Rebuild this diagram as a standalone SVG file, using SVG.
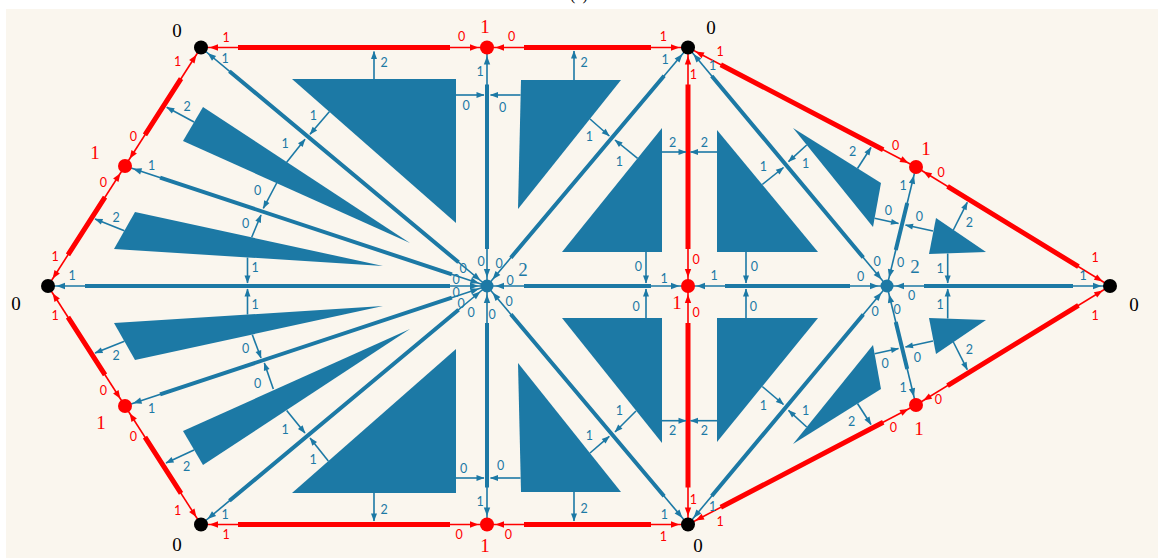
<svg xmlns="http://www.w3.org/2000/svg" width="1158" height="558" viewBox="0 0 1158 558">
<style>
.bg{fill:#FAF6EE}
.tri{fill:#1C79A5}
.rt{stroke:#FF0000;stroke-width:1.6;fill:none;marker-start:url(#ar);marker-end:url(#ar)}
.rT{stroke:#FF0000;stroke-width:5;fill:none}
.bt{stroke:#1C79A5;stroke-width:1.6;fill:none;marker-start:url(#ab);marker-end:url(#ab)}
.bT{stroke:#1C79A5;stroke-width:4;fill:none}
.sa{stroke:#1C79A5;stroke-width:1.6;fill:none;marker-end:url(#sb)}
.s{font-family:Lato,"Liberation Sans",sans-serif;font-size:12.5px;text-anchor:middle}
.sb{fill:#1C79A5}
.sr{fill:#FF0000}
.big{font-family:"Liberation Serif","DejaVu Serif",serif;font-size:19px;text-anchor:middle}
.kb{fill:#000000}
.nr{fill:#FF0000}
.nh{fill:#1C79A5}
</style>
<defs>
<marker id="ar" markerUnits="userSpaceOnUse" markerWidth="20" markerHeight="10" viewBox="-20 -5 20 10" refX="0" refY="0" orient="auto-start-reverse" overflow="visible"><path d="M-17,-3.2 L-8.5,0 L-17,3.2 z" fill="#FF0000"/></marker>
<marker id="ab" markerUnits="userSpaceOnUse" markerWidth="20" markerHeight="10" viewBox="-20 -5 20 10" refX="0" refY="0" orient="auto-start-reverse" overflow="visible"><path d="M-17,-3.2 L-8.5,0 L-17,3.2 z" fill="#1C79A5"/></marker>
<marker id="sb" markerUnits="userSpaceOnUse" markerWidth="12" markerHeight="8" viewBox="-10 -4 12 8" refX="0" refY="0" orient="auto" overflow="visible"><path d="M-7.5,-3 L0.5,0 L-7.5,3 z" fill="#1C79A5"/></marker>
</defs>
<rect class="bg" x="6" y="9" width="1152" height="549"/>
<text x="579" y="-0.5" font-family="Liberation Serif, serif" font-size="16" text-anchor="middle">(c)</text>

<g id="shapes">
<polygon id="t1" class="tri" points="292,79 456,79 456,223"/>
<polygon id="t2" class="tri" points="203,107 183,141 410,243"/>
<polygon id="t3" class="tri" points="135,212 114,249 383,266"/>
<polygon id="t4" class="tri" points="114,323 135,360 383,306"/>
<polygon id="t5" class="tri" points="183,431 203,465 410,329"/>
<polygon id="t6" class="tri" points="292,493 456,493 456,349"/>
<polygon id="t7" class="tri" points="521,80 621,80 518,209"/>
<polygon id="t8" class="tri" points="662,128 562,252 662,252"/>
<polygon id="t9" class="tri" points="717,130 717,252 818,252"/>
<polygon id="t10" class="tri" points="793,128 881,183 873,227"/>
<polygon id="t11" class="tri" points="936,218 929,254 986,252"/>
<polygon id="t12" class="tri" points="936,354 929,318 986,320"/>
<polygon id="t13" class="tri" points="793,444 881,389 873,345"/>
<polygon id="t14" class="tri" points="717,318 818,318 717,442"/>
<polygon id="t15" class="tri" points="562,318 662,318 662,443"/>
<polygon id="t16" class="tri" points="518,363 521,492 621,492"/>
</g>

<g id="connectors">
<!-- blue edges from center hub -->
<line class="bt" x1="487" y1="286" x2="201" y2="47.5"/><line class="bT" x1="487" y1="286" x2="201" y2="47.5" stroke-dasharray="0 37 298.4 999"/>
<line class="bt" x1="487" y1="286" x2="125" y2="166"/><line class="bT" x1="487" y1="286" x2="125" y2="166" stroke-dasharray="0 37 307.4 999"/>
<line class="bt" x1="487" y1="286" x2="48" y2="286"/><line class="bT" x1="487" y1="286" x2="48" y2="286" stroke-dasharray="0 37 365 999"/>
<line class="bt" x1="487" y1="286" x2="125" y2="406"/><line class="bT" x1="487" y1="286" x2="125" y2="406" stroke-dasharray="0 37 307.4 999"/>
<line class="bt" x1="487" y1="286" x2="201" y2="524.5"/><line class="bT" x1="487" y1="286" x2="201" y2="524.5" stroke-dasharray="0 37 298.4 999"/>
<line class="bt" x1="487" y1="286" x2="487" y2="47.5"/><line class="bT" x1="487" y1="286" x2="487" y2="47.5" stroke-dasharray="0 37 164.5 999"/>
<line class="bt" x1="487" y1="286" x2="487" y2="524.5"/><line class="bT" x1="487" y1="286" x2="487" y2="524.5" stroke-dasharray="0 37 164.5 999"/>
<line class="bt" x1="487" y1="286" x2="688" y2="47.5"/><line class="bT" x1="487" y1="286" x2="688" y2="47.5" stroke-dasharray="0 37 237.9 999"/>
<line class="bt" x1="487" y1="286" x2="688" y2="524.5"/><line class="bT" x1="487" y1="286" x2="688" y2="524.5" stroke-dasharray="0 37 237.9 999"/>
<line class="bt" x1="487" y1="286" x2="688" y2="286"/><line class="bT" x1="487" y1="286" x2="688" y2="286" stroke-dasharray="0 37 127 999"/>
<!-- blue edges from right hub -->
<line class="bt" x1="887" y1="286" x2="688" y2="47.5"/><line class="bT" x1="887" y1="286" x2="688" y2="47.5" stroke-dasharray="0 37 236.6 999"/>
<line class="bt" x1="887" y1="286" x2="688" y2="524.5"/><line class="bT" x1="887" y1="286" x2="688" y2="524.5" stroke-dasharray="0 37 236.6 999"/>
<line class="bt" x1="887" y1="286" x2="688" y2="286"/><line class="bT" x1="887" y1="286" x2="688" y2="286" stroke-dasharray="0 37 125 999"/>
<line class="bt" x1="887" y1="286" x2="1110" y2="286"/><line class="bT" x1="887" y1="286" x2="1110" y2="286" stroke-dasharray="0 37 149 999"/>
<line class="bt" x1="887" y1="286" x2="916" y2="167"/><line class="bT" x1="887" y1="286" x2="916" y2="167" stroke-dasharray="0 37 48.5 999"/>
<line class="bt" x1="887" y1="286" x2="916" y2="405"/><line class="bT" x1="887" y1="286" x2="916" y2="405" stroke-dasharray="0 37 48.5 999"/>
<!-- red edges -->
<line class="rt" x1="201" y1="47.5" x2="487" y2="47.5"/><line class="rT" x1="201" y1="47.5" x2="487" y2="47.5" stroke-dasharray="0 37 212 999"/>
<line class="rt" x1="487" y1="47.5" x2="688" y2="47.5"/><line class="rT" x1="487" y1="47.5" x2="688" y2="47.5" stroke-dasharray="0 37 127 999"/>
<line class="rt" x1="201" y1="47.5" x2="125" y2="166"/><line class="rT" x1="201" y1="47.5" x2="125" y2="166" stroke-dasharray="0 37 66.8 999"/>
<line class="rt" x1="125" y1="166" x2="48" y2="286"/><line class="rT" x1="125" y1="166" x2="48" y2="286" stroke-dasharray="0 37 68.6 999"/>
<line class="rt" x1="48" y1="286" x2="125" y2="406"/><line class="rT" x1="48" y1="286" x2="125" y2="406" stroke-dasharray="0 37 68.6 999"/>
<line class="rt" x1="125" y1="406" x2="201" y2="524.5"/><line class="rT" x1="125" y1="406" x2="201" y2="524.5" stroke-dasharray="0 37 66.8 999"/>
<line class="rt" x1="201" y1="524.5" x2="487" y2="524.5"/><line class="rT" x1="201" y1="524.5" x2="487" y2="524.5" stroke-dasharray="0 37 212 999"/>
<line class="rt" x1="487" y1="524.5" x2="688" y2="524.5"/><line class="rT" x1="487" y1="524.5" x2="688" y2="524.5" stroke-dasharray="0 37 127 999"/>
<line class="rt" x1="688" y1="47.5" x2="688" y2="286"/><line class="rT" x1="688" y1="47.5" x2="688" y2="286" stroke-dasharray="0 37 164.5 999"/>
<line class="rt" x1="688" y1="286" x2="688" y2="524.5"/><line class="rT" x1="688" y1="286" x2="688" y2="524.5" stroke-dasharray="0 37 164.5 999"/>
<line class="rt" x1="688" y1="47.5" x2="916" y2="167"/><line class="rT" x1="688" y1="47.5" x2="916" y2="167" stroke-dasharray="0 37 183.4 999"/>
<line class="rt" x1="916" y1="167" x2="1110" y2="286"/><line class="rT" x1="916" y1="167" x2="1110" y2="286" stroke-dasharray="0 37 153.6 999"/>
<line class="rt" x1="1110" y1="286" x2="916" y2="405"/><line class="rT" x1="1110" y1="286" x2="916" y2="405" stroke-dasharray="0 37 153.6 999"/>
<line class="rt" x1="916" y1="405" x2="688" y2="524.5"/><line class="rT" x1="916" y1="405" x2="688" y2="524.5" stroke-dasharray="0 37 183.4 999"/>
<!-- small arrows -->
<line class="sa" x1="374" y1="79" x2="374" y2="51.5"/>
<line class="sa" x1="329.3" y1="111.7" x2="310" y2="134.3"/>
<line class="sa" x1="286.7" y1="162.3" x2="305" y2="139.3"/>
<line class="sa" x1="194" y1="122" x2="166.7" y2="107.3"/>
<line class="sa" x1="276.7" y1="183" x2="263.3" y2="208.3"/>
<line class="sa" x1="251.7" y1="237.3" x2="261" y2="215"/>
<line class="sa" x1="124.4" y1="230.7" x2="95" y2="219"/>
<line class="sa" x1="247.5" y1="257.5" x2="247.5" y2="283"/>
<line class="sa" x1="247.5" y1="314.5" x2="247.5" y2="289"/>
<line class="sa" x1="124.4" y1="341.3" x2="95" y2="353"/>
<line class="sa" x1="252.3" y1="334.7" x2="261" y2="358"/>
<line class="sa" x1="273.3" y1="389" x2="264.3" y2="363"/>
<line class="sa" x1="194" y1="450" x2="166" y2="463"/>
<line class="sa" x1="286.7" y1="410.5" x2="305" y2="433"/>
<line class="sa" x1="328.3" y1="461" x2="310" y2="438"/>
<line class="sa" x1="374" y1="493" x2="374" y2="521"/>
<line class="sa" x1="456" y1="95" x2="484" y2="95"/>
<line class="sa" x1="520.6" y1="95" x2="490.5" y2="95"/>
<line class="sa" x1="456" y1="478" x2="484" y2="478"/>
<line class="sa" x1="520.6" y1="478" x2="490.5" y2="478"/>
<line class="sa" x1="574" y1="80" x2="574" y2="51"/>
<line class="sa" x1="574" y1="492" x2="574" y2="521"/>
<line class="sa" x1="590" y1="119" x2="609.3" y2="136"/>
<line class="sa" x1="637.6" y1="158.3" x2="615" y2="140"/>
<line class="sa" x1="662" y1="152" x2="686" y2="152"/>
<line class="sa" x1="717" y1="152" x2="690.5" y2="152"/>
<line class="sa" x1="762.3" y1="184.5" x2="783.5" y2="167.5"/>
<line class="sa" x1="806.7" y1="145" x2="788.5" y2="161.7"/>
<line class="sa" x1="857.5" y1="168.5" x2="871" y2="147.5"/>
<line class="sa" x1="646" y1="252" x2="646" y2="283"/>
<line class="sa" x1="746" y1="252" x2="746" y2="283"/>
<line class="sa" x1="646" y1="318" x2="646" y2="289"/>
<line class="sa" x1="746" y1="318" x2="746" y2="289"/>
<line class="sa" x1="636" y1="411" x2="615" y2="432"/>
<line class="sa" x1="590" y1="453" x2="609.3" y2="436.3"/>
<line class="sa" x1="662" y1="420.7" x2="686" y2="420.7"/>
<line class="sa" x1="717" y1="420.7" x2="690.5" y2="420.7"/>
<line class="sa" x1="762.3" y1="386.5" x2="783.5" y2="404.5"/>
<line class="sa" x1="806.7" y1="427" x2="788.5" y2="410.3"/>
<line class="sa" x1="857.5" y1="403.5" x2="871" y2="424.5"/>
<line class="sa" x1="874.6" y1="218.3" x2="898.5" y2="223.5"/>
<line class="sa" x1="933" y1="231" x2="905.5" y2="225"/>
<line class="sa" x1="947.7" y1="253.5" x2="947.7" y2="283"/>
<line class="sa" x1="947.7" y1="318.5" x2="947.7" y2="289"/>
<line class="sa" x1="953.3" y1="230" x2="967.3" y2="202.3"/>
<line class="sa" x1="953.3" y1="342" x2="967.3" y2="369.7"/>
<line class="sa" x1="933" y1="341" x2="905.5" y2="347"/>
<line class="sa" x1="874.6" y1="353.7" x2="898.5" y2="348.5"/>

<!-- red edge labels -->
<g class="s sr">
<text x="226" y="41.8">1</text><text x="461.7" y="41.2">0</text>
<text x="511.7" y="41.2">0</text><text x="663.3" y="41">1</text>
<text x="177.7" y="66.2">1</text><text x="133.3" y="140.5">0</text>
<text x="103.3" y="187.2">0</text><text x="55" y="261.2">1</text>
<text x="55" y="319.8">1</text><text x="103.3" y="395.2">0</text>
<text x="133.3" y="440.8">0</text><text x="177.7" y="515.2">1</text>
<text x="226" y="539.2">1</text><text x="459" y="539.2">0</text>
<text x="508.3" y="539.2">0</text><text x="663.3" y="541">1</text>
<text x="693.3" y="78.5">1</text><text x="696" y="263.8">0</text>
<text x="696" y="316.8">0</text><text x="693.3" y="504.2">1</text>
<text x="720" y="56.2">1</text><text x="895.7" y="150.2">0</text>
<text x="941" y="177.2">0</text><text x="1095" y="262.2">1</text>
<text x="1095" y="320.2">1</text><text x="938.3" y="404.2">0</text>
<text x="893.3" y="431.8">0</text><text x="720" y="525.8">1</text>
</g>
<!-- blue edge labels -->
<g class="s sb">
<text x="225" y="62.8">1</text>
<text x="151.7" y="169.5">1</text>
<text x="72" y="279.5">1</text>
<text x="151.7" y="412.5">1</text>
<text x="225" y="518.5">1</text>
<text x="480" y="76.2">1</text>
<text x="480" y="505.8">1</text>
<text x="665" y="63.5">1</text>
<text x="664.3" y="518.5">1</text>
<text x="664" y="282.8">1</text>
<text x="712.7" y="69.5">1</text>
<text x="712.7" y="510.8">1</text>
<text x="714" y="279.5">1</text>
<text x="1083" y="279.5">1</text>
<text x="903" y="189.5">1</text>
<text x="903" y="391.5">1</text>
<text x="481" y="265.5">0</text>
<text x="499" y="267.5">0</text>
<text x="510" y="284.5">0</text>
<text x="509" y="305.5">0</text>
<text x="492" y="318.5">0</text>
<text x="471" y="316.5">0</text>
<text x="461" y="307.5">0</text>
<text x="456" y="297">0</text>
<text x="456" y="284">0</text>
<text x="463" y="272.5">0</text>
<text x="877" y="265.5">0</text>
<text x="900.7" y="266.5">0</text>
<text x="860.7" y="280.5">0</text>
<text x="911.7" y="299.5">0</text>
<text x="875" y="316.2">0</text>
<text x="897" y="313.5">0</text>
<!-- small arrow labels -->
<text x="384" y="66.5">2</text>
<text x="313.3" y="119.5">1</text>
<text x="285" y="147.8">1</text>
<text x="187" y="110.5">2</text>
<text x="257.7" y="195.2">0</text>
<text x="245.7" y="227.8">0</text>
<text x="116" y="221.8">2</text>
<text x="255" y="272.2">1</text>
<text x="255" y="308.5">1</text>
<text x="116" y="359.8">2</text>
<text x="245.7" y="353.2">0</text>
<text x="257.7" y="387.5">0</text>
<text x="186.7" y="470.5">2</text>
<text x="285" y="434.2">1</text>
<text x="313" y="463.5">1</text>
<text x="384" y="514.2">2</text>
<text x="466" y="109.5">0</text>
<text x="502.7" y="111.5">0</text>
<text x="463.7" y="472.5">0</text>
<text x="500.7" y="469.8">0</text>
<text x="584" y="66.5">2</text>
<text x="584" y="512.5">2</text>
<text x="589.3" y="141.2">1</text>
<text x="619.3" y="166.2">1</text>
<text x="672.7" y="147.2">2</text>
<text x="704.3" y="147.2">2</text>
<text x="763.3" y="171.2">1</text>
<text x="805.7" y="167.8">1</text>
<text x="852.7" y="155.5">2</text>
<text x="638.3" y="270.5">0</text>
<text x="754.3" y="270.5">0</text>
<text x="636" y="310.8">0</text>
<text x="753.3" y="310.8">0</text>
<text x="619.3" y="415.2">1</text>
<text x="589.3" y="439.8">1</text>
<text x="672.7" y="435.2">2</text>
<text x="704.3" y="435.2">2</text>
<text x="763.3" y="409.8">1</text>
<text x="805.7" y="415.2">1</text>
<text x="851.7" y="425.8">2</text>
<text x="888.3" y="214.5">0</text>
<text x="919.3" y="221.2">0</text>
<text x="940" y="272.8">1</text>
<text x="940" y="308.5">1</text>
<text x="969.3" y="227.2">2</text>
<text x="969.3" y="353.8">2</text>
<text x="917.3" y="361.5">0</text>
<text x="885" y="367.5">0</text>
</g>
</g>

<g id="node-b1"><circle class="kb" cx="201" cy="47.5" r="7"/><text class="big kb" x="177" y="36.5">0</text></g>
<g id="node-b2"><circle class="kb" cx="688" cy="47.5" r="7"/><text class="big kb" x="711" y="33.5">0</text></g>
<g id="node-b3"><circle class="kb" cx="48" cy="286" r="7"/><text class="big kb" x="16" y="309.5">0</text></g>
<g id="node-b4"><circle class="kb" cx="1110" cy="286" r="7"/><text class="big kb" x="1134" y="310.5">0</text></g>
<g id="node-b5"><circle class="kb" cx="201" cy="524.5" r="7"/><text class="big kb" x="177" y="550.5">0</text></g>
<g id="node-b6"><circle class="kb" cx="688" cy="524.5" r="7"/><text class="big kb" x="698" y="551.5">0</text></g>
<g id="node-r1"><circle class="nr" cx="487" cy="47.5" r="7"/><text class="big nr" x="485" y="32.5">1</text></g>
<g id="node-r2"><circle class="nr" cx="125" cy="166" r="7"/><text class="big nr" x="95" y="158.5">1</text></g>
<g id="node-r3"><circle class="nr" cx="125" cy="406" r="7"/><text class="big nr" x="101" y="428.5">1</text></g>
<g id="node-r4"><circle class="nr" cx="487" cy="524.5" r="7"/><text class="big nr" x="485" y="551.5">1</text></g>
<g id="node-r5"><circle class="nr" cx="688" cy="286" r="7"/><text class="big nr" x="677" y="308.5">1</text></g>
<g id="node-r6"><circle class="nr" cx="916" cy="167" r="7"/><text class="big nr" x="926" y="154.5">1</text></g>
<g id="node-r7"><circle class="nr" cx="916" cy="405" r="7"/><text class="big nr" x="919" y="434.5">1</text></g>
<g id="node-h"><circle class="nh" cx="487" cy="286" r="6.5"/><text class="big nh" x="523" y="275.5">2</text></g>
<g id="node-r"><circle class="nh" cx="887" cy="286" r="6.5"/><text class="big nh" x="915" y="272.5">2</text></g>
</svg>
